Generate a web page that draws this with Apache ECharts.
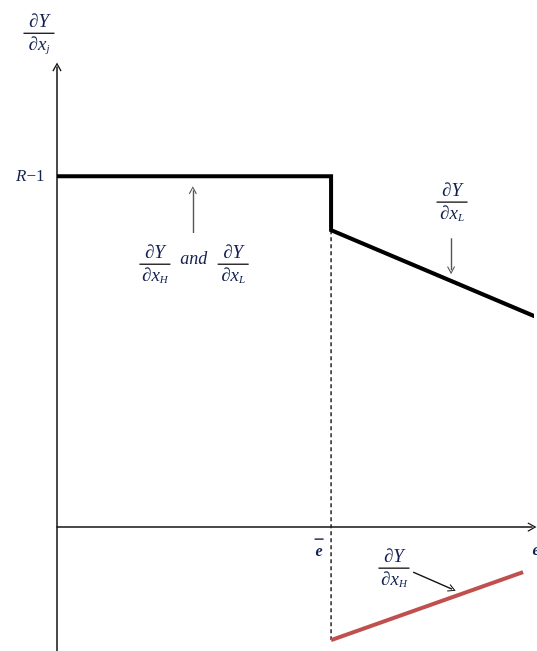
<!DOCTYPE html>
<html><head><meta charset="utf-8">
<script src="https://cdn.jsdelivr.net/npm/echarts@6/dist/echarts.min.js"></script>
<style>html,body{margin:0;padding:0;background:#fff}#c{width:537px;height:651px}</style>
</head><body><div id="c"></div>
<script>
// ---- data (schematic units: R-1 = 1, x in units of the horizontal axis) ----
const xLimits = [0, 9.896];
const yLimits = [-0.353, 1.311];
const eBarValue = 5.71;
const curveLX = [0, 5.71, 5.71, 10];      // dY/dx_L (equal to dY/dx_H below e-bar)
const curveLY = [1, 1, 0.846, 0.598];
const curveHX = [5.71, 9.71];              // dY/dx_H above e-bar
const curveHY = [-0.322, -0.128];
const dropX = [5.71, 5.71];
const dropY = [0.846, -0.322];
const tickValues = [1];
const tickLabels = ['R−1'];
// annotation anchors (data coordinates)
const labelX = [-0.375, 2.04, 2.85, 3.67, 8.23, 7.02, 5.46, 9.98];
const labelY = [1.407, 0.749, 0.764, 0.749, 0.926, -0.117, -0.057, -0.068];
const labelKind = ['fj', 'fH', 'and', 'fL', 'fL', 'fH', 'ebar', 'e'];
const arrowFromX = [2.83, 8.21, 7.42];
const arrowFromY = [0.838, 0.823, -0.128];
const arrowToX = [2.83, 8.21, 8.23];
const arrowToY = [0.960, 0.732, -0.177];

const navy = '#142150';
const serif = '"Liberation Serif", "DejaVu Serif", serif';
const chevron = 'path://M0,9 L5,0 L10,9 L8.8,9.7 L5,2.6 L1.2,9.7 Z';

const zip = (a, b) => a.map((v, i) => [v, b[i]]);

const fracRich = {
  n: {fontFamily: serif, fontStyle: 'italic', fontSize: 19, color: navy, lineHeight: 19, align: 'center'},
  b: {width: 31, height: 1.4, backgroundColor: '#222', fontSize: 1, lineHeight: 4},
  d: {fontFamily: serif, fontStyle: 'italic', fontSize: 19, color: navy, lineHeight: 19},
  s: {fontFamily: serif, fontStyle: 'italic', fontSize: 11, color: navy, padding: [9, 0, 0, 0], lineHeight: 19}
};
const fracText = sub => '{n|∂Y}\n{b| }\n{d|∂x}{s|' + sub + '}';

const labelDefs = {
  fj: {formatter: fracText('j'), rich: fracRich},
  fH: {formatter: fracText('H'), rich: fracRich},
  fL: {formatter: fracText('L'), rich: fracRich},
  and: {formatter: 'and', fontFamily: serif, fontStyle: 'italic', fontSize: 18, color: navy},
  ebar: {formatter: '{b| }\n{e|e}', rich: {
    b: {width: 9, height: 1.4, backgroundColor: navy, fontSize: 1, lineHeight: 10},
    e: {fontFamily: serif, fontStyle: 'italic', fontWeight: 'bold', fontSize: 16, color: navy, lineHeight: 16}
  }},
  e: {formatter: 'e', fontFamily: serif, fontStyle: 'italic', fontWeight: 'bold', fontSize: 16, color: navy}
};

const labelData = labelX.map((x, i) => ({
  value: [x, labelY[i]],
  label: Object.assign({show: true, position: 'inside', align: 'center', verticalAlign: 'middle', opacity: 1},
    labelDefs[labelKind[i]])
}));
tickValues.forEach((v, i) => labelData.push({
  value: [0, v],
  label: {show: true, position: 'left', distance: 12, opacity: 1,
    formatter: '{r|R}{m|' + tickLabels[i].slice(1) + '}',
    rich: {
      r: {fontFamily: serif, fontStyle: 'italic', fontSize: 17, color: navy},
      m: {fontFamily: serif, fontSize: 17, color: navy}
    }}
}));

const arrowData = arrowFromX.map((x, i) => ({
  coords: [[x, arrowFromY[i]], [arrowToX[i], arrowToY[i]]],
  lineStyle: {color: i < 2 ? '#555' : '#111', width: 1.4, opacity: 1}
}));

const axisCommon = {
  type: 'value',
  axisTick: {show: false},
  axisLabel: {show: false},
  splitLine: {show: false},
  axisLine: {show: true, onZero: true, lineStyle: {color: '#111', width: 1.5},
    symbol: ['none', chevron], symbolSize: [12, 9]}
};

const chart = echarts.init(document.getElementById('c'), null, {renderer: 'canvas'});
chart.setOption({
  animation: false,
  backgroundColor: '#fff',
  grid: {left: 57, right: 5, top: 67, bottom: 0},
  xAxis: Object.assign({}, axisCommon, {min: xLimits[0], max: xLimits[1]}),
  yAxis: Object.assign({}, axisCommon, {min: yLimits[0], max: yLimits[1]}),
  series: [
    {type: 'line', data: zip(dropX, dropY), symbol: 'none', clip: false, z: 1,
      lineStyle: {color: '#222', width: 1.5, type: [4, 3]}},
    {type: 'line', data: zip(curveLX, curveLY), symbol: 'none', clip: false, z: 3,
      lineStyle: {color: '#000', width: 4, join: 'miter', cap: 'butt'}},
    {type: 'line', data: zip(curveHX, curveHY), symbol: 'none', clip: false, z: 3,
      lineStyle: {color: '#c0504d', width: 4, cap: 'butt'}},
    {type: 'lines', coordinateSystem: 'cartesian2d', data: arrowData, z: 4,
      lineStyle: {opacity: 1},
      symbol: ['none', chevron], symbolSize: [11, 8]},
    {type: 'scatter', data: labelData, symbolSize: 1, clip: false, z: 5,
      itemStyle: {color: 'rgba(0,0,0,0)', opacity: 1}, silent: true}
  ]
});
</script>
</body></html>
